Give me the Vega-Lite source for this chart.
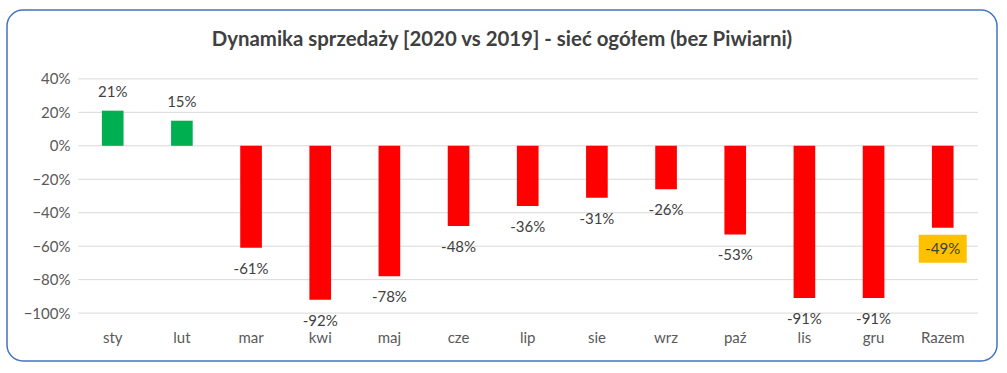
{
  "$schema": "https://vega.github.io/schema/vega-lite/v6.json",
  "width": 990,
  "height": 351,
  "autosize": {"type": "none"},
  "padding": {"left": 7, "top": 10, "right": 10, "bottom": 12},
  "background": "#ffffff",
  "config": {
    "view": {"stroke": "#4472C4", "strokeWidth": 1.5, "cornerRadius": 16},
    "font": "Lato"
  },
  "title": {
    "text": "Dynamika sprzedaży [2020 vs 2019] - sieć ogółem (bez Piwiarni)",
    "font": "Lato",
    "fontSize": 20.4,
    "fontWeight": "bold",
    "color": "#404040",
    "anchor": "middle",
    "baseline": "middle",
    "offset": -50
  },
  "data": {
    "values": [
      {"m": "sty", "v": 0.21, "label": "21%"},
      {"m": "lut", "v": 0.15, "label": "15%"},
      {"m": "mar", "v": -0.61, "label": "-61%"},
      {"m": "kwi", "v": -0.92, "label": "-92%"},
      {"m": "maj", "v": -0.78, "label": "-78%"},
      {"m": "cze", "v": -0.48, "label": "-48%"},
      {"m": "lip", "v": -0.36, "label": "-36%"},
      {"m": "sie", "v": -0.31, "label": "-31%"},
      {"m": "wrz", "v": -0.26, "label": "-26%"},
      {"m": "paź", "v": -0.53, "label": "-53%"},
      {"m": "lis", "v": -0.91, "label": "-91%"},
      {"m": "gru", "v": -0.91, "label": "-91%"},
      {"m": "Razem", "v": -0.49, "label": "-49%"}
    ]
  },
  "encoding": {
    "x": {
      "field": "m",
      "type": "nominal",
      "sort": null,
      "scale": {
        "domain": ["sty", "lut", "mar", "kwi", "maj", "cze", "lip", "sie", "wrz", "paź", "lis", "gru", "Razem"],
        "paddingInner": 0.687, "paddingOuter": 1.092, "align": 0.686, "round": false
      },
      "axis": {
        "title": null,
        "orient": "bottom",
        "offset": -24,
        "ticks": false,
        "tickSize": 0,
        "domain": false,
        "grid": false,
        "labelPadding": 0,
        "labelBaseline": "middle",
        "labelAngle": 0,
        "labelFont": "Lato",
        "labelFontSize": 15,
        "labelColor": "#595959"
      }
    },
    "y": {
      "field": "v",
      "type": "quantitative",
      "scale": {"domain": [-1.2863, 0.8117], "nice": false, "zero": false},
      "axis": {
        "title": null,
        "values": [-1, -0.8, -0.6, -0.4, -0.2, 0, 0.2, 0.4],
        "format": ".0%",
        "offset": -63,
        "ticks": false,
        "tickSize": 0,
        "domain": false,
        "grid": false,
        "labelPadding": 0,
        "labelFont": "Lato",
        "labelFontSize": 15,
        "labelColor": "#595959"
      }
    }
  },
  "layer": [
    {
      "data": {"values": [{"g": 0.4}, {"g": 0.2}, {"g": 0}, {"g": -0.2}, {"g": -0.4}, {"g": -0.6}, {"g": -0.8}, {"g": -1}]},
      "mark": {"type": "rule", "color": "#D9D9D9", "strokeWidth": 1},
      "encoding": {
        "y": {"field": "g", "type": "quantitative"},
        "x": {"datum": "sty", "bandPosition": -1.089},
        "x2": {"datum": "Razem", "bandPosition": 2.126}
      }
    },
    {
      "mark": {"type": "bar"},
      "encoding": {
        "y2": {"datum": 0},
        "color": {
          "condition": {"test": "datum.v > 0", "value": "#00B050"},
          "value": "#FF0000"
        }
      }
    },
    {
      "transform": [{"filter": "datum.m == 'Razem'"}],
      "mark": {"type": "point", "shape": "M-1,-0.58H1V0.58H-1Z", "filled": true, "color": "#FFC000", "opacity": 1, "size": 2304, "yOffset": 21}
    },
    {
      "transform": [{"filter": "datum.v > 0"}],
      "mark": {"type": "text", "baseline": "middle", "dy": -19, "fontSize": 15, "color": "#404040", "font": "Lato"},
      "encoding": {"text": {"field": "label"}}
    },
    {
      "transform": [{"filter": "datum.v < 0"}],
      "mark": {"type": "text", "baseline": "middle", "dy": 21, "fontSize": 15, "color": "#404040", "font": "Lato"},
      "encoding": {"text": {"field": "label"}}
    }
  ]
}
